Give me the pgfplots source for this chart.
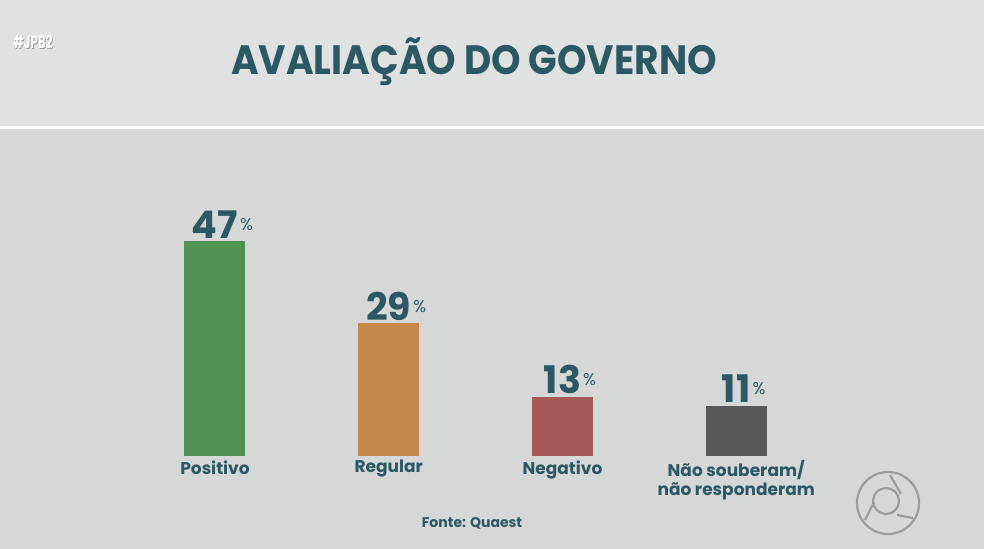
\documentclass[border=0pt]{standalone}
\usepackage{pgfplots}
\pgfplotsset{compat=1.18}
\usepackage{fontspec}
\setmainfont{Poppins}

\definecolor{bgtop}{RGB}{224,226,225}
\definecolor{bgbot}{RGB}{214,216,215}
\definecolor{ink}{RGB}{44,88,99}
\definecolor{cpos}{RGB}{79,146,84}
\definecolor{creg}{RGB}{200,135,74}
\definecolor{cneg}{RGB}{166,90,90}
\definecolor{cnr}{RGB}{88,88,88}
\definecolor{logo}{RGB}{155,157,156}

\newcommand{\pct}{\rlap{\kern1pt\raisebox{4pt}{\fontsize{8.5}{8.5}\selectfont\mdseries\%}}}

\begin{document}
\begin{tikzpicture}
% background, 1 px = 0.5 pt, y downwards
\begin{scope}[x=0.5pt,y=-0.5pt]
  \fill[bgbot] (0,0) rectangle (984,549);
  \fill[bgtop] (0,0) rectangle (984,126);
  \fill[white] (0,126) rectangle (984,129);
  \useasboundingbox (0,0) rectangle (984,549);
  \node[anchor=west,text=gray!80,font=\fontsize{9}{9}\selectfont\bfseries,inner sep=0pt]
    at (13.8,42.8) {\scalebox{0.65}[1]{\#JPB2}};
  \node[anchor=west,text=white,font=\fontsize{9}{9}\selectfont\bfseries,inner sep=0pt]
    at (13,42) {\scalebox{0.65}[1]{\#JPB2}};
  \node[text=ink,font=\fontsize{20.5}{20.5}\selectfont\bfseries,inner sep=0pt]
    at (474,62) {\scalebox{0.915}[1]{AVALIAÇÃO DO GOVERNO}};
  \node[text=ink,font=\fontsize{7}{7}\selectfont\bfseries,inner sep=0pt]
    at (472,523) {Fonte: Quaest};
  \begin{scope}[draw=logo,line width=1.1pt,double=bgbot,double distance=1.5pt]
    \draw (888,503) circle (31);
    \draw (886,501) circle (13);
    \draw (890,475) -- (901,494);
    \draw (865,520) -- (874,502);
    \draw (913,518) -- (897,515);
  \end{scope}
\end{scope}

\begin{axis}[
  at={(64.05pt,-228pt)}, anchor=south west,
  scale only axis, width=347.5pt, height=107.5pt,
  xmin=-0.5, xmax=3.5, ymin=0, ymax=47,
  ybar, bar width=30.5pt, bar shift=0pt,
  axis line style={draw=none}, ytick=\empty,
  xtick={0,1,2,3},
  xticklabels={Positivo,Regular,Negativo,{Não souberam/\\não responderam}},
  major tick length=0pt,
  xticklabel style={font=\fontsize{8.5}{9.5}\selectfont\bfseries, text=ink,
    align=center, anchor=north, inner sep=0pt, yshift=-2pt},
  /pgf/number format/assume math mode=true,
  nodes near coords={\pgfmathprintnumber{\pgfplotspointmeta}\pct},
  every node near coord/.append style={font=\fontsize{19}{19}\selectfont\bfseries,
    text=ink, anchor=base, inner sep=0pt, yshift=1.5pt},
  clip=false,
]
\addplot[fill=cpos,draw=none] coordinates {(0,47)};
\addplot[fill=creg,draw=none] coordinates {(1,29)};
\addplot[fill=cneg,draw=none] coordinates {(2,13)};
\addplot[fill=cnr,draw=none] coordinates {(3,11)};
\end{axis}
\end{tikzpicture}
\end{document}
